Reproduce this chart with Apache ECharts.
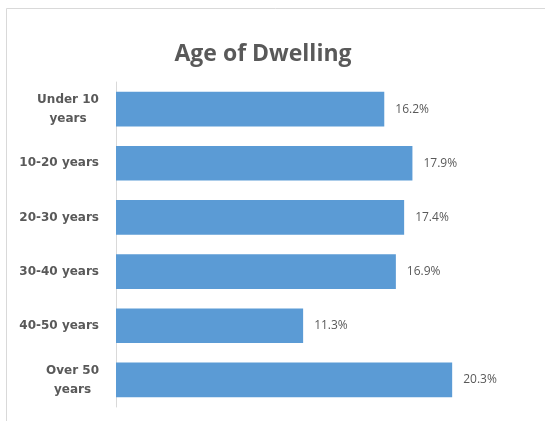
<!DOCTYPE html>
<html>
<head>
<meta charset="utf-8">
<script src="https://cdn.jsdelivr.net/npm/echarts@6/dist/echarts.min.js"></script>
<style>html,body{margin:0;padding:0;background:#fff}#c{width:545px;height:421px}</style>
</head>
<body>
<div id="c"></div>
<script>
var titleText = 'Age of Dwelling';
var categories = ['Under 10\nyears', '10-20 years', '20-30 years', '30-40 years', '40-50 years', 'Over 50\nyears'];
var values = [16.2, 17.9, 17.4, 16.9, 11.3, 20.3];

var labelFont = 'bold 12px "DejaVu Sans"';
var mctx = document.createElement('canvas').getContext('2d');
mctx.font = labelFont;
var richStyles = {};
function catLabel(v) {
  if (v.indexOf('\n') < 0) return v;
  var lines = v.split('\n');
  var w = 0;
  lines.forEach(function (s) { w = Math.max(w, Math.ceil(mctx.measureText(s).width)); });
  var key = 'w' + w;
  richStyles[key] = {width: w, align: 'center', color: '#595959', fontFamily: 'DejaVu Sans', fontWeight: 'bold', fontSize: 12, lineHeight: 19};
  return lines.map(function (s) { return '{' + key + '|' + s + '}'; }).join('\n');
}
var catFormatted = categories.map(catLabel);

var chart = echarts.init(document.getElementById('c'), null, {renderer: 'canvas'});
chart.setOption({
  animation: false,
  backgroundColor: '#ffffff',
  graphic: [
    {type: 'line', shape: {x1: 6.5, y1: 8.5, x2: 545, y2: 8.5}, style: {stroke: '#d9d9d9', lineWidth: 1}},
    {type: 'line', shape: {x1: 6.5, y1: 8.5, x2: 6.5, y2: 421}, style: {stroke: '#d9d9d9', lineWidth: 1}},
    {type: 'text', x: 263, y: 43, style: {text: titleText, fill: '#595959', font: 'bold 23px "Open Sans"', textAlign: 'center', textVerticalAlign: 'top'}}
  ],
  grid: {left: 116, right: 15, top: 82, bottom: 14, containLabel: false},
  xAxis: {
    type: 'value', min: 0, max: 25, show: false,
    splitLine: {show: false}
  },
  yAxis: {
    type: 'category', data: categories, inverse: true,
    axisLine: {show: true, lineStyle: {color: '#d9d9d9', width: 1}},
    axisTick: {show: false},
    axisLabel: {
      margin: 17, color: '#595959', fontFamily: 'DejaVu Sans', fontWeight: 'bold', fontSize: 12, lineHeight: 19, align: 'right',
      formatter: function (v, i) { return catFormatted[i]; },
      rich: richStyles
    }
  },
  series: [{
    type: 'bar', data: values, barCategoryGap: '36%',
    itemStyle: {color: '#5b9bd5'},
    label: {show: true, position: 'right', distance: 11, color: '#595959', fontFamily: 'Open Sans', fontSize: 12,
      formatter: function (p) { return p.value.toFixed(1) + '%'; }}
  }]
});
</script>
</body>
</html>
